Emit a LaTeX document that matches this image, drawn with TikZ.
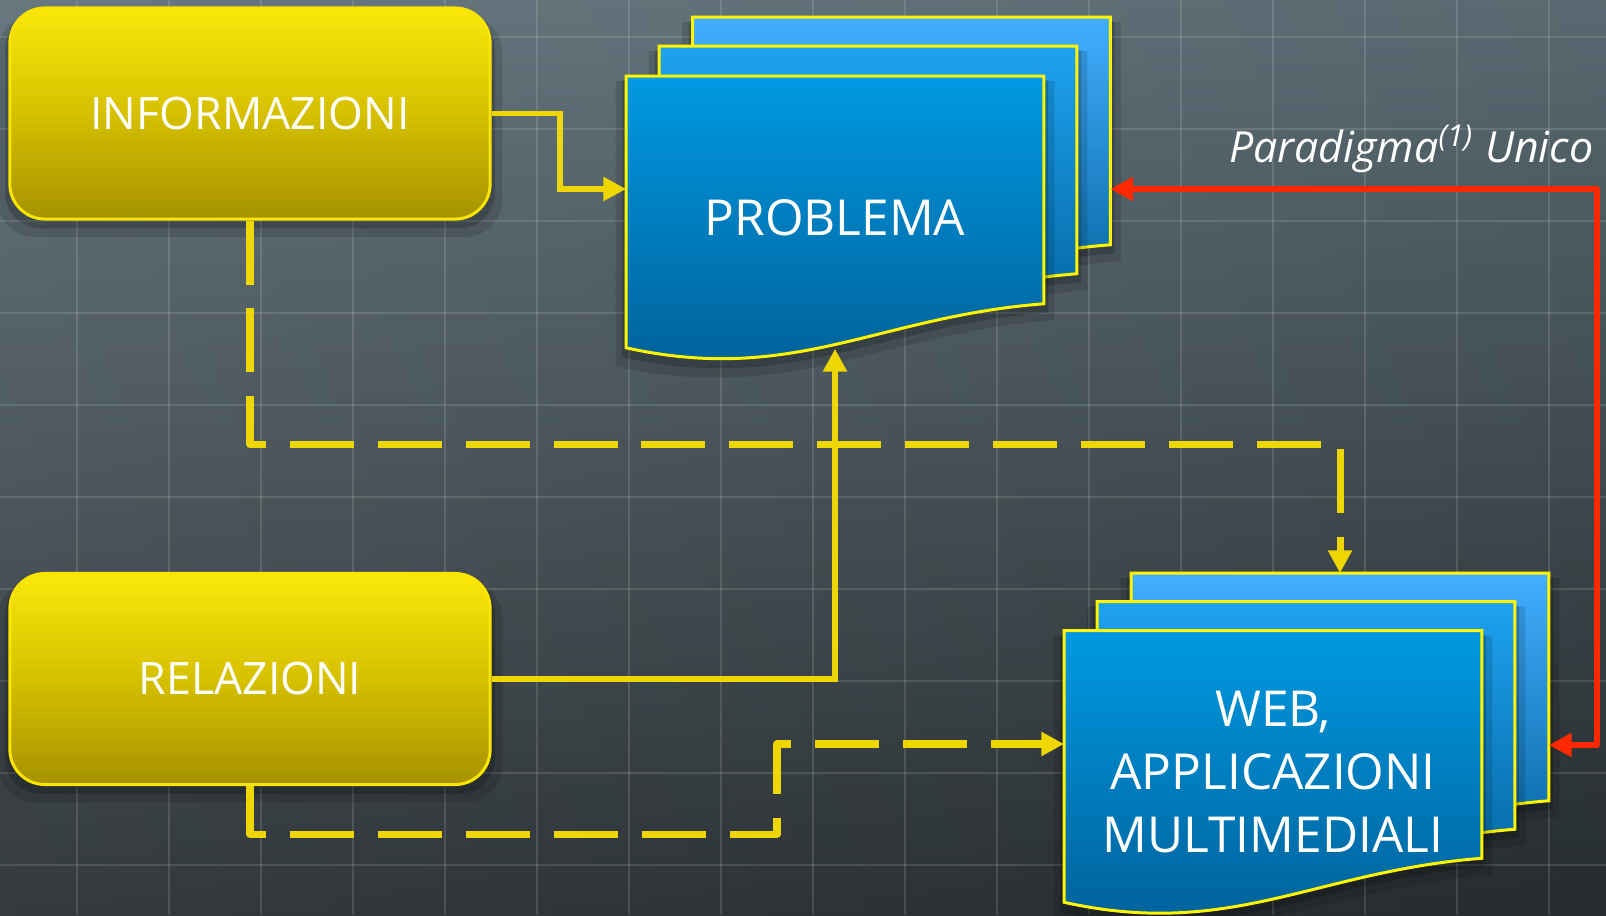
\documentclass[tikz,border=0pt]{standalone}
\usepackage{fontspec}
\setmainfont{Open Sans}
\usetikzlibrary{arrows.meta, calc, backgrounds, shadows}

\definecolor{bgtop}{RGB}{94,112,120}
\definecolor{bgbot}{RGB}{40,46,49}
\definecolor{boxtop}{RGB}{250,232,10}
\definecolor{boxmid}{RGB}{214,192,0}
\definecolor{boxbot}{RGB}{165,146,0}
\definecolor{boxedge}{RGB}{250,228,0}
\definecolor{sheetfront}{RGB}{0,153,226}
\definecolor{sheetmid}{RGB}{30,162,240}
\definecolor{sheetback}{RGB}{66,174,255}
\definecolor{sheetbot}{RGB}{0,94,150}
\definecolor{sheetedge}{RGB}{255,245,0}
\definecolor{flowyellow}{RGB}{238,214,0}
\definecolor{flowred}{RGB}{255,40,0}

% outline of a document sheet around node #1
\newcommand{\sheetdraw}[2]{\draw[#2] (#1.north west) -- (#1.north east) -- ([yshift=5.5mm]#1.south east)
    .. controls ($(#1.south west)!0.6!(#1.south east)+(0cm,4.2mm)$) and ($(#1.south west)!0.4!(#1.south east)+(0cm,-2.6mm)$)
    .. ([yshift=1.1mm]#1.south west) -- cycle;}

\begin{document}
\begin{tikzpicture}[x=0.01cm, y=-0.01cm,
    halo/.style={general shadow={fill=black, opacity=0.12, shadow scale=1.05, shadow yshift=-1.2mm},
                 general shadow={fill=black, opacity=0.18, shadow scale=1.02, shadow yshift=-0.7mm}},
    infobox/.style={rectangle, rounded corners=3.5mm, draw=boxedge, line width=0.85pt, top color=boxtop, bottom color=boxbot, middle color=boxmid,
                    minimum width=4.8cm, minimum height=2.11cm, text=white, font=\fontsize{12.7}{15}\selectfont, halo},
    sheet/.style={rectangle, inner sep=0pt, minimum width=4.16cm, minimum height=2.81cm, text=white, align=center, font=\fontsize{14.1}{18}\selectfont},
    sheetline/.style={draw=sheetedge, line width=0.85pt, top color=#1, bottom color=sheetbot, halo},
    gridline/.style={draw=white, opacity=0.13, line width=0.7pt},
    flow/.style={draw=flowyellow, line width=1.7pt, -{Triangle[length=6.5pt, width=6.5pt]}},
    dashflow/.style={flow, line width=2pt, dash pattern=on 18.2pt off 6.8pt, line join=round},
    redflow/.style={draw=flowred, line width=1.7pt, line join=round, {Triangle[length=6.5pt, width=6.5pt]}-{Triangle[length=6.5pt, width=6.5pt]}}
]
    \useasboundingbox (0,0) rectangle (1606,915);

    % document stacks
    \node[sheet] (prob3) at (901.5,158.5) {};
    \node[sheet] (prob2) at (868,187.5) {};
    \node[sheet] (prob) at (835,217.5) {PROBLEMA};
    \node[sheet] (web3) at (1340,714.5) {};
    \node[sheet] (web2) at (1306,743) {};
    \node[sheet] (web) at (1273,772) {WEB,\\APPLICAZIONI\\MULTIMEDIALI};

    \begin{scope}[on background layer]
        \shade[top color=bgtop, bottom color=bgbot] (0,0) rectangle (1606,915);
        \shade[left color=white, right color=black, opacity=0.06] (0,0) rectangle (1606,915);
        \foreach \gx in {77,169,...,1549} \draw[gridline] (\gx,0) -- (\gx,915);
        \foreach \gy in {37,129,...,865} \draw[gridline] (0,\gy) -- (1606,\gy);
        \sheetdraw{prob3}{sheetline=sheetback}
        \sheetdraw{prob2}{sheetline=sheetmid}
        \sheetdraw{prob}{sheetline=sheetfront}
        \sheetdraw{web3}{sheetline=sheetback}
        \sheetdraw{web2}{sheetline=sheetmid}
        \sheetdraw{web}{sheetline=sheetfront}
    \end{scope}

    \node[infobox] (info) at (250,113.5) {INFORMAZIONI};
    \node[infobox] (rel) at (250,679) {RELAZIONI};

    \node[font=\itshape\fontsize{12.2}{14}\selectfont, text=white, anchor=base east, inner sep=0pt] (paradigm) at (1594,162) {Paradigma\textsuperscript{(1)} Unico};

    \draw[flow] (info.east) -- ++(68,0) |- ([yshift=2.85mm]prob.west);
    \draw[flow] (rel.east) -| ([yshift=1mm]prob.south);
    \draw[dashflow] (info.south) -- ++(0,224) -| (web3.north);
    \draw[dashflow] (rel.south) -- ++(0,48) -- ++(527,0) |- ([yshift=2.8mm]web.west);
    \draw[redflow] ([yshift=-3.05mm]prob3.east) -| ([xshift=4.8mm, yshift=-3.05mm]web3.east) -- ([yshift=-3.05mm]web3.east);

\end{tikzpicture}
\end{document}
